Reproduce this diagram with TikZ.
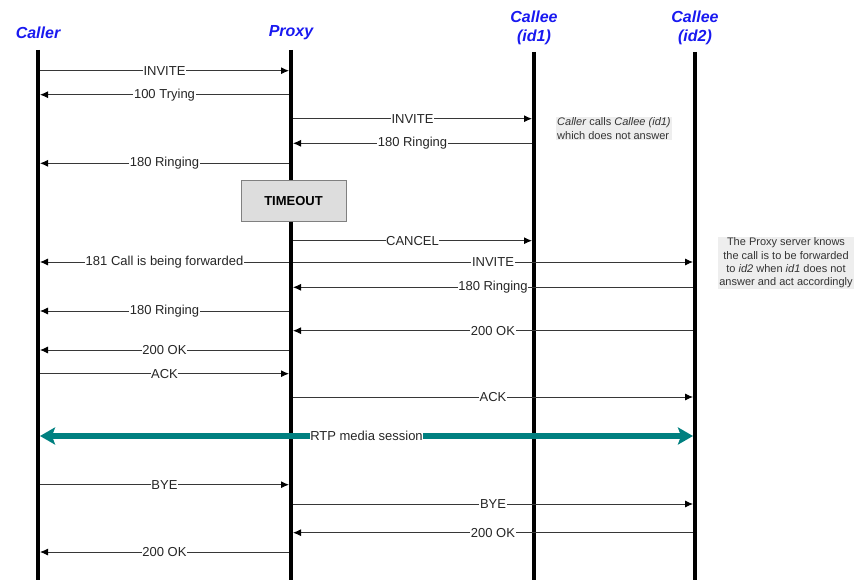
\documentclass[tikz,border=0pt]{standalone}
\usepackage{fontspec}
\setmainfont{Liberation Sans}
\usetikzlibrary{arrows.meta}
\definecolor{hdrblue}{RGB}{25,25,240}
\definecolor{rtpteal}{RGB}{0,128,128}
\definecolor{msggray}{RGB}{55,55,55}
\definecolor{notegray}{RGB}{238,238,238}
\definecolor{boxgray}{RGB}{221,221,221}
\tikzset{
  actor/.style={text=hdrblue,font=\fontsize{16}{19.4}\selectfont\bfseries\itshape,align=center},
  lifeline/.style={line width=3.6pt},
  msg/.style={draw=msggray,line width=.9pt,-{Latex[length=8pt,width=7pt,black]},shorten >=2pt,shorten <=2pt},
  lbl/.style={fill=white,inner sep=.6pt,text=black!85,font=\fontsize{13}{15}\selectfont},
  note/.style={fill=notegray,text=black!80,font=\fontsize{11}{13.4}\selectfont,inner sep=1pt},
}
\begin{document}
\begin{tikzpicture}[x=1pt,y=-1pt]
 \useasboundingbox (0,0) rectangle (859,580);
 \node[actor] (caller) at (38,33) {Caller};
 \node[actor] (proxy) at (291,33) {Proxy};
 \node[actor] (calleea) at (534,28) {Callee\\(id1)};
 \node[actor] (calleeb) at (695,28) {Callee\\(id2)};
 \node[draw=gray,line width=.8pt,fill=boxgray,minimum width=105pt,minimum height=41pt,
   font=\fontsize{13}{15}\selectfont\bfseries] (timeout) at (293.5,201) {TIMEOUT};
 % lifelines
 \draw[lifeline] (caller |- 0,50) -- (caller |- 0,580);
 \draw[lifeline] (proxy |- 0,50) -- (proxy |- timeout.north);
 \draw[lifeline] (proxy |- timeout.south) -- (proxy |- 0,580);
 \draw[lifeline] (calleea |- 0,52) -- (calleea |- 0,580);
 \draw[lifeline] (calleeb |- 0,52) -- (calleeb |- 0,580);
 % messages
 \draw[msg] (caller |- 0,70.7) -- node[lbl]{INVITE} (proxy |- 0,70.7);
 \draw[msg] (proxy |- 0,94.7) -- node[lbl]{100 Trying} (caller |- 0,94.7);
 \draw[msg] (proxy |- 0,118.7) -- node[lbl]{INVITE} (calleea |- 0,118.7);
 \draw[msg] (calleea |- 0,143.3) -- node[lbl]{180 Ringing} (proxy |- 0,143.3);
 \draw[msg] (proxy |- 0,163.3) -- node[lbl]{180 Ringing} (caller |- 0,163.3);
 \draw[msg] (proxy |- 0,240.7) -- node[lbl]{CANCEL} (calleea |- 0,240.7);
 \draw[msg] (proxy |- 0,262) -- node[lbl]{181 Call is being forwarded} (caller |- 0,262);
 \draw[msg] (proxy |- 0,262) -- node[lbl]{INVITE} (calleeb |- 0,262);
 \draw[msg] (calleeb |- 0,287.3) -- node[lbl]{180 Ringing} (proxy |- 0,287.3);
 \draw[msg] (proxy |- 0,311) -- node[lbl]{180 Ringing} (caller |- 0,311);
 \draw[msg] (calleeb |- 0,330.7) -- node[lbl]{200 OK} (proxy |- 0,330.7);
 \draw[msg] (proxy |- 0,350) -- node[lbl]{200 OK} (caller |- 0,350);
 \draw[msg] (caller |- 0,373.7) -- node[lbl]{ACK} (proxy |- 0,373.7);
 \draw[msg] (proxy |- 0,397) -- node[lbl]{ACK} (calleeb |- 0,397);
 \draw[rtpteal,line width=5.5pt,{Stealth[length=15pt,width=17pt,inset=3pt]}-{Stealth[length=15pt,width=17pt,inset=3pt]},
   shorten <=2pt,shorten >=2pt] (caller |- 0,436) -- node[lbl]{RTP media session} (calleeb |- 0,436);
 \draw[msg] (caller |- 0,484.7) -- node[lbl]{BYE} (proxy |- 0,484.7);
 \draw[msg] (proxy |- 0,504) -- node[lbl]{BYE} (calleeb |- 0,504);
 \draw[msg] (calleeb |- 0,532.7) -- node[lbl]{200 OK} (proxy |- 0,532.7);
 \draw[msg] (proxy |- 0,552) -- node[lbl]{200 OK} (caller |- 0,552);
 % notes
 \node[note,align=left,anchor=north west] (notea) at (556,116.5)
   {\textit{Caller} calls \textit{Callee (id1)}\\which does not answer};
 \node[note,align=center] (noteb) at (786,263)
   {The Proxy server knows\\the call is to be forwarded\\to \textit{id2} when \textit{id1} does not\\answer and act accordingly};
\end{tikzpicture}
\end{document}
